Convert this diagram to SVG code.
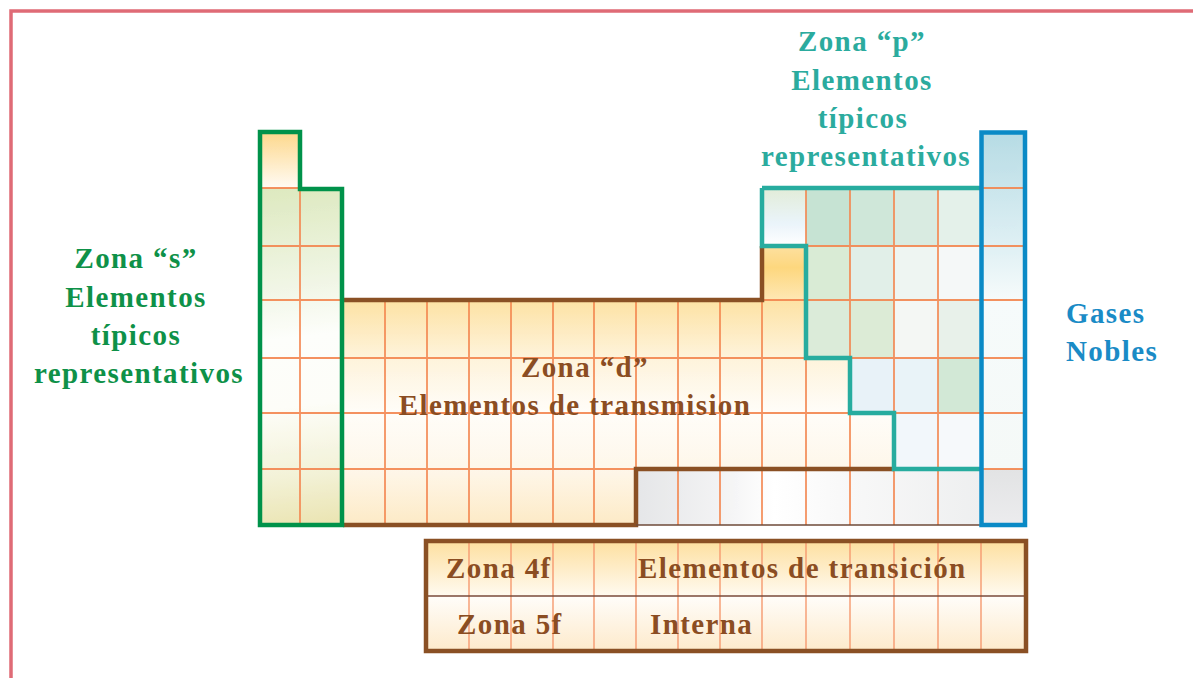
<svg xmlns="http://www.w3.org/2000/svg" width="1193" height="678" viewBox="0 0 1193 678">
<style>
.t{font-family:"Liberation Serif","Times New Roman",serif;font-weight:bold;font-size:29px;letter-spacing:1.4px}
.ts{fill:#0e9148}.tp{fill:#2bab9e}.tg{fill:#1a8bc6}.td{fill:#8b4d22}
.grid{stroke:#f3864f;stroke-width:1.8;fill:none;opacity:0.9}
.gridf{stroke:#f59a70;stroke-width:1.4;fill:none}
.bd{fill:none;stroke-width:4.5;stroke-linejoin:miter}
</style>
<defs>
<linearGradient id="gS1" gradientUnits="userSpaceOnUse" x1="0" y1="131" x2="0" y2="188"><stop offset="0" stop-color="#fdd78a"/><stop offset="1" stop-color="#fffbf4"/></linearGradient>
<linearGradient id="gS" gradientUnits="userSpaceOnUse" x1="260" y1="188" x2="300" y2="525"><stop offset="0" stop-color="#dde9bf"/><stop offset="0.3" stop-color="#f1f6e6"/><stop offset="0.45" stop-color="#fdfefb"/><stop offset="0.65" stop-color="#fdfdf8"/><stop offset="0.85" stop-color="#f3f2d8"/><stop offset="1" stop-color="#ebe5b4"/></linearGradient>
<linearGradient id="gD" gradientUnits="userSpaceOnUse" x1="0" y1="300" x2="0" y2="525"><stop offset="0" stop-color="#fde2a4"/><stop offset="0.25" stop-color="#fef3da"/><stop offset="0.5" stop-color="#fffdf9"/><stop offset="0.75" stop-color="#fef7ea"/><stop offset="1" stop-color="#fdeac6"/></linearGradient>
<linearGradient id="gY" gradientUnits="userSpaceOnUse" x1="0" y1="246" x2="0" y2="300"><stop offset="0" stop-color="#fde0a0"/><stop offset="0.4" stop-color="#fdd77e"/><stop offset="1" stop-color="#fee7b4"/></linearGradient>
<linearGradient id="gP1" gradientUnits="userSpaceOnUse" x1="0" y1="188" x2="0" y2="246"><stop offset="0" stop-color="#e2ecd8"/><stop offset="0.6" stop-color="#eaf4fa"/><stop offset="1" stop-color="#ffffff"/></linearGradient>
<linearGradient id="gB" gradientUnits="userSpaceOnUse" x1="0" y1="131" x2="0" y2="469"><stop offset="0" stop-color="#b6dbe4"/><stop offset="0.34" stop-color="#dff0f4"/><stop offset="0.5" stop-color="#f6fbfb"/><stop offset="1" stop-color="#f5f9f7"/></linearGradient>
<linearGradient id="gB2" gradientUnits="userSpaceOnUse" x1="0" y1="469" x2="0" y2="525"><stop offset="0" stop-color="#e2e3e4"/><stop offset="1" stop-color="#ececee"/></linearGradient>
<linearGradient id="gG" gradientUnits="userSpaceOnUse" x1="636" y1="0" x2="981" y2="0"><stop offset="0" stop-color="#e5e6e8"/><stop offset="0.25" stop-color="#f3f3f4"/><stop offset="0.4" stop-color="#ffffff"/><stop offset="0.62" stop-color="#f8f8f8"/><stop offset="1" stop-color="#eeeff0"/></linearGradient>
<linearGradient id="gF1" gradientUnits="userSpaceOnUse" x1="0" y1="540" x2="0" y2="596"><stop offset="0" stop-color="#fddf9e"/><stop offset="1" stop-color="#fffaf0"/></linearGradient>
<linearGradient id="gF2" gradientUnits="userSpaceOnUse" x1="0" y1="596" x2="0" y2="651"><stop offset="0" stop-color="#fffdfa"/><stop offset="1" stop-color="#fdeacb"/></linearGradient>
<clipPath id="tab"><polygon points="258,131 300,131 300,188 343,188 343,300 762,300 762,188 981,188 981,131 1025,131 1025,525 258,525"/></clipPath>
<clipPath id="fb"><rect x="427" y="540" width="598" height="111"/></clipPath>
</defs>

<rect x="0" y="0" width="1193" height="678" fill="#ffffff"/>
<path d="M11,678 V11 H1193" fill="none" stroke="#df6b76" stroke-width="3.5"/>

<g id="s-block">
<rect x="258" y="131" width="42" height="57" fill="url(#gS1)"/>
<rect x="258" y="188" width="85" height="337" fill="url(#gS)"/>
</g>

<g id="d-block">
<polygon points="343,300 762,300 762,246 806,246 806,358 850,358 850,413 894,413 894,469 636,469 636,525 343,525" fill="url(#gD)"/>
<rect x="762" y="246" width="44" height="54" fill="url(#gY)"/>
</g>

<g id="p-block">
<polygon points="762,188 981,188 981,469 894,469 894,413 850,413 850,358 806,358 806,246 762,246" fill="#e8f2ec"/>
<rect x="762" y="188" width="44" height="58" fill="url(#gP1)"/>
<rect x="806" y="188" width="44" height="58" fill="#c6e3d3"/>
<rect x="850" y="188" width="44" height="58" fill="#cfe7d9"/>
<rect x="894" y="188" width="44" height="58" fill="#d9ece2"/>
<rect x="938" y="188" width="43" height="58" fill="#e4f1ea"/>
<rect x="806" y="246" width="44" height="54" fill="#d9ebd5"/>
<rect x="850" y="246" width="44" height="54" fill="#e1efe8"/>
<rect x="894" y="246" width="44" height="54" fill="#eef5f2"/>
<rect x="938" y="246" width="43" height="54" fill="#f5f8f8"/>
<rect x="806" y="300" width="44" height="58" fill="#dbebd9"/>
<rect x="850" y="300" width="44" height="58" fill="#dcebd6"/>
<rect x="894" y="300" width="44" height="58" fill="#f4f7f4"/>
<rect x="938" y="300" width="43" height="58" fill="#e8f1ea"/>
<rect x="850" y="358" width="44" height="55" fill="#e8f2f8"/>
<rect x="894" y="358" width="44" height="55" fill="#e9f3f8"/>
<rect x="938" y="358" width="43" height="55" fill="#d2e8d6"/>
<rect x="894" y="413" width="44" height="56" fill="#f2f7fb"/>
<rect x="938" y="413" width="43" height="56" fill="#f6f9fb"/>
</g>

<g id="f-row">
<rect x="636" y="469" width="345" height="56" fill="url(#gG)"/>
</g>

<g id="noble-gases">
<rect x="981" y="131" width="44" height="338" fill="url(#gB)"/>
<rect x="981" y="469" width="44" height="56" fill="url(#gB2)"/>
</g>

<g id="grid" clip-path="url(#tab)" class="grid">
<path d="M300,131V525 M343,131V525 M385,131V525 M427,131V525 M469,131V525 M511,131V525 M553,131V525 M594,131V525 M636,131V525 M678,131V525 M720,131V525 M762,131V525 M806,131V525 M850,131V525 M894,131V525 M938,131V525 M981,131V525"/>
<path d="M258,188H1025 M258,246H1025 M258,300H1025 M258,358H1025 M258,413H1025 M258,469H1025"/>
</g>

<g id="borders">
<path class="bd" stroke="#8a5024" d="M343,300 H762 V246 M343,525 H636 V469 H894"/>
<path d="M636,525 H981" fill="none" stroke="#6e4a38" stroke-width="1.6"/>
<path class="bd" stroke="#27ac9f" d="M762,188 H981 M762,188 V246 H806 V358 H850 V413 H894 V469 H981"/>
<path class="bd" stroke="#00924a" d="M260,132 H300 V189 H342 V525 H260 Z"/>
<rect class="bd" stroke="#0a8ac6" x="981.5" y="132.5" width="43.5" height="392.5"/>
</g>

<g id="f-block">
<rect x="427" y="540" width="598" height="56" fill="url(#gF1)"/>
<rect x="427" y="596" width="598" height="55" fill="url(#gF2)"/>
<g class="gridf" clip-path="url(#fb)">
<path d="M469,540V651 M511,540V651 M553,540V651 M594,540V651 M636,540V651 M678,540V651 M720,540V651 M762,540V651 M806,540V651 M850,540V651 M894,540V651 M938,540V651 M981,540V651"/>
</g>
<path d="M427,596 H1025" stroke="#7a4a3a" stroke-width="1.6" fill="none"/>
<rect class="bd" stroke="#8a5024" x="426" y="541" width="600" height="110"/>
<text class="t td" x="446" y="578">Zona 4f</text>
<text class="t td" x="638" y="578">Elementos de transición</text>
<text class="t td" x="457" y="634">Zona 5f</text>
<text class="t td" x="650" y="634">Interna</text>
</g>

<g id="s-label" text-anchor="middle">
<text class="t ts" x="136" y="268">Zona “s”</text>
<text class="t ts" x="136" y="307">Elementos</text>
<text class="t ts" x="136" y="345">típicos</text>
<text class="t ts" x="139" y="383">representativos</text>
</g>

<g id="p-label" text-anchor="middle">
<text class="t tp" x="862" y="51">Zona “p”</text>
<text class="t tp" x="862" y="90">Elementos</text>
<text class="t tp" x="863" y="128">típicos</text>
<text class="t tp" x="866" y="166">representativos</text>
</g>

<g id="noble-label">
<text class="t tg" x="1066" y="323">Gases</text>
<text class="t tg" x="1066" y="361">Nobles</text>
</g>

<g id="d-label" text-anchor="middle">
<text class="t td" x="585" y="377">Zona “d”</text>
<text class="t td" x="575" y="415">Elementos de transmision</text>
</g>
</svg>
